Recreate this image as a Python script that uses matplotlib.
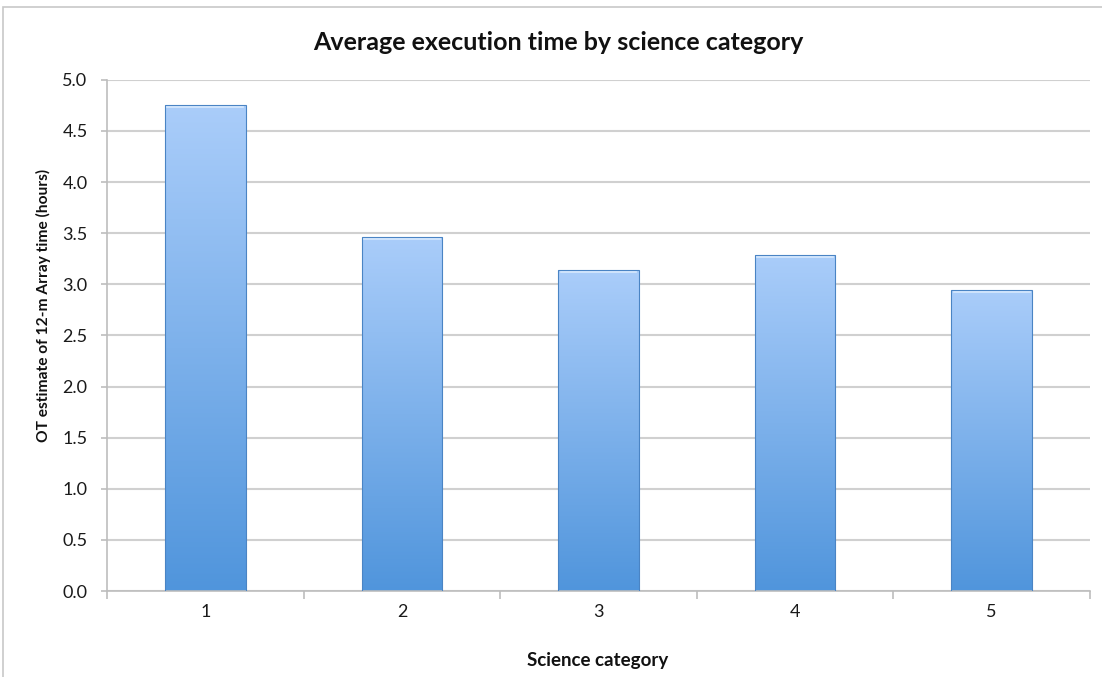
import numpy as np
import matplotlib.pyplot as plt
from matplotlib.colors import LinearSegmentedColormap
from matplotlib.patches import Rectangle

plt.rcParams['font.family'] = ['Lato', 'DejaVu Sans']

# average OT estimate per science category (hours)
categories = ['1', '2', '3', '4', '5']
avg_hours = [4.75, 3.46, 3.14, 3.29, 2.945]
y_ticks = [0.0, 0.5, 1.0, 1.5, 2.0, 2.5, 3.0, 3.5, 4.0, 4.5, 5.0]

fig = plt.figure(figsize=(11.02, 6.77), dpi=100)
ax = fig.add_axes([0.0971, 0.127, 0.892, 0.755])

# chart frame
fig.patches.append(Rectangle((3 / 1102, -0.05), 1.2, 1 - 7 / 677 + 0.05,
                             transform=fig.transFigure, fill=False,
                             edgecolor='#c8c8c8', linewidth=1.2))

x = np.arange(len(categories))
width = 0.41
bars = ax.bar(x, avg_hours, width=width, color='none', edgecolor='#4a84c4',
              linewidth=0.8, zorder=3)

cmap = LinearSegmentedColormap.from_list('barfill', ['#5095dc', '#aacdfa'])
grad = np.linspace(0, 1, 256).reshape(-1, 1)
for b in bars:
    x0, w, h = b.get_x(), b.get_width(), b.get_height()
    im = ax.imshow(grad, extent=[x0, x0 + w, 0, h], origin='lower', cmap=cmap,
                   aspect='auto', zorder=2)
    im.set_clip_path(b)
    # light rim along the top edge
    ax.plot([x0 + w * 0.03, x0 + w * 0.97], [h - 0.02, h - 0.02],
            color='#d6e8fd', linewidth=1.2, zorder=4)

ax.set_xlim(-0.5, len(categories) - 0.5)
ax.set_ylim(0, 5.0)
ax.set_yticks(y_ticks)
ax.set_yticklabels([f'{v:.1f}' for v in y_ticks])
ax.set_xticks(x)
ax.set_xticklabels(categories)
ax.set_xticks(np.arange(-0.5, len(categories)), minor=True)

ax.yaxis.grid(True, color='#d0d0d0', linewidth=1.5, zorder=0)
ax.set_axisbelow(True)
for s in ['top', 'right']:
    ax.spines[s].set_visible(False)
for s in ['left', 'bottom']:
    ax.spines[s].set_color('#bdbdbd')
    ax.spines[s].set_linewidth(1.2)

ax.tick_params(axis='x', which='major', length=0, pad=9, labelsize=13,
               labelcolor='#1a1a1a')
ax.tick_params(axis='x', which='minor', length=6, color='#bdbdbd', width=1.2)
ax.tick_params(axis='y', length=4, color='#bdbdbd', width=1.2, labelsize=13,
               labelcolor='#1a1a1a', pad=10)

fig.text(558 / 1102, 1 - 42 / 677, 'Average execution time by science category',
         ha='center', va='center', fontsize=18, fontweight='bold', color='#111111')
ax.set_xlabel('Science category', fontsize=13.5, fontweight='bold', color='#111111')
ax.set_ylabel('OT estimate of 12-m Array time (hours)', fontsize=11.2,
              fontweight='bold', color='#111111', va='center')
ax.xaxis.set_label_coords(0.4995, -0.119)
ax.yaxis.set_label_coords(-0.065, 0.558)

fig.savefig('out.png', dpi=100)
